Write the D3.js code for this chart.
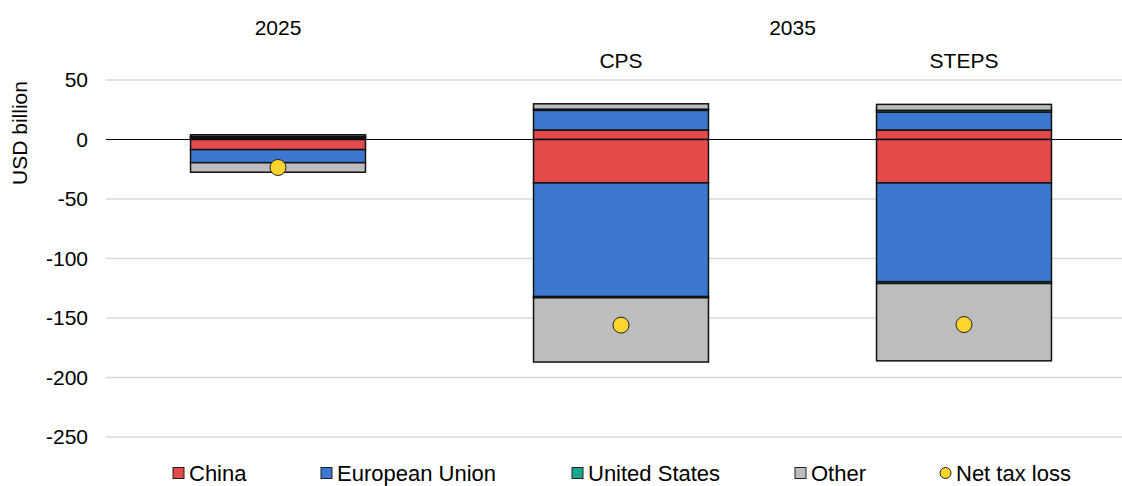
<!DOCTYPE html>
<html>
<head>
<meta charset="utf-8">
<script src="https://cdn.jsdelivr.net/npm/d3@7"></script>
<style>
  html, body { margin: 0; padding: 0; background: #fff; }
  svg { display: block; font-family: "Liberation Sans", Arial, sans-serif; }
</style>
</head>
<body>
<svg id="chart" width="1122" height="486"></svg>
<script>
// ---- data ----
const categories = ["2025", "CPS", "STEPS"];
const seriesNames = ["China", "European Union", "United States", "Other"];
const colors = ["#e34a4a", "#3c78d0", "#1aa58e", "#bdbdbd"];
// positive and negative components per category (USD billion)
const chinaPos = [1, 8, 8];
const chinaNeg = [-8.5, -36.5, -36.5];
const euPos = [1, 16.5, 15];
const euNeg = [-11, -95.5, -83];
const usPos = [0.5, 1, 1.5];
const usNeg = [0, -1, -1.5];
const otherPos = [1.5, 4.5, 5];
const otherNeg = [-8, -54, -65];
const netTaxLoss = [-23.5, -156, -155.5];
const yTicks = [50, 0, -50, -100, -150, -200, -250];
const groupLabels = [{ text: "2025", cats: ["2025"] }, { text: "2035", cats: ["CPS", "STEPS"] }];
const legendItems = ["China", "European Union", "United States", "Other", "Net tax loss"];

// ---- layout ----
const svg = d3.select("#chart");
const gridLeft = 106, gridRight = 1122;
const x = d3.scaleBand().domain(categories).range([106.5, 1135.5]).paddingInner(0.49).paddingOuter(0.245);
const y = d3.scaleLinear().domain([-250, 50]).range([437, 80]);

// gridlines
svg.append("g").selectAll("line").data(yTicks.filter(d => d !== 0)).join("line")
  .attr("x1", gridLeft).attr("x2", gridRight)
  .attr("y1", d => y(d)).attr("y2", d => y(d))
  .attr("stroke", "#d9d9d9").attr("stroke-width", 1.5);

// y axis labels
const yAxis = d3.axisLeft(y).tickValues(yTicks).tickSize(0).tickPadding(0).tickFormat(d => String(d));
const yg = svg.append("g").attr("transform", "translate(88,0)").call(yAxis);
yg.select(".domain").remove();
yg.selectAll("text").attr("font-size", 21).attr("fill", "#000")
  .attr("font-family", "Liberation Sans, Arial, sans-serif");

svg.append("text").attr("transform", "translate(27,133) rotate(-90)")
  .attr("text-anchor", "middle").attr("font-size", 21).text("USD billion");

// build stacks
const rows = [];
const pos = [chinaPos, euPos, usPos, otherPos];
const neg = [chinaNeg, euNeg, usNeg, otherNeg];
categories.forEach((c, i) => {
  let up = 0, down = 0;
  seriesNames.forEach((s, j) => {
    const p = pos[j][i];
    if (p > 0) { rows.push({ cat: c, s: j, y0: up, y1: up + p }); up += p; }
  });
  seriesNames.forEach((s, j) => {
    const n = neg[j][i];
    if (n < 0) { rows.push({ cat: c, s: j, y0: down + n, y1: down }); down += n; }
  });
});

svg.append("g").selectAll("rect").data(rows).join("rect")
  .attr("x", d => x(d.cat))
  .attr("width", x.bandwidth())
  .attr("y", d => y(d.y1))
  .attr("height", d => y(d.y0) - y(d.y1))
  .attr("fill", d => colors[d.s])
  .attr("stroke", "#111").attr("stroke-width", 1.5);

// zero line
svg.append("line").attr("x1", gridLeft).attr("x2", gridRight)
  .attr("y1", y(0)).attr("y2", y(0)).attr("stroke", "#000").attr("stroke-width", 1.2);

// net tax loss dots
svg.append("g").selectAll("circle").data(categories).join("circle")
  .attr("cx", d => x(d) + x.bandwidth() / 2)
  .attr("cy", (d, i) => y(netTaxLoss[i]))
  .attr("r", 8).attr("fill", "#fed52d").attr("stroke", "#222").attr("stroke-width", 1);

// header labels
groupLabels.forEach(g => {
  const cx = d3.mean(g.cats, c => x(c) + x.bandwidth() / 2);
  svg.append("text").attr("x", cx).attr("y", 34.5).attr("text-anchor", "middle")
    .attr("font-size", 21).text(g.text);
});
["CPS", "STEPS"].forEach(c => {
  svg.append("text").attr("x", x(c) + x.bandwidth() / 2).attr("y", 67.5).attr("text-anchor", "middle")
    .attr("font-size", 21).text(c);
});

// legend
const legendX = [173, 321, 572, 795, 940];
const lg = svg.append("g");
legendItems.forEach((name, i) => {
  const g = lg.append("g").attr("transform", `translate(${legendX[i]},473)`);
  if (i < 4) {
    g.append("rect").attr("x", 0).attr("y", -5.5).attr("width", 11).attr("height", 11)
      .attr("fill", colors[i]).attr("stroke", "#222").attr("stroke-width", 1);
  } else {
    g.append("circle").attr("cx", 5.5).attr("cy", 0).attr("r", 5.5)
      .attr("fill", "#fed52d").attr("stroke", "#222").attr("stroke-width", 1);
  }
  g.append("text").attr("x", 16).attr("y", 7.5).attr("font-size", 22).text(name);
});
</script>
</body>
</html>
